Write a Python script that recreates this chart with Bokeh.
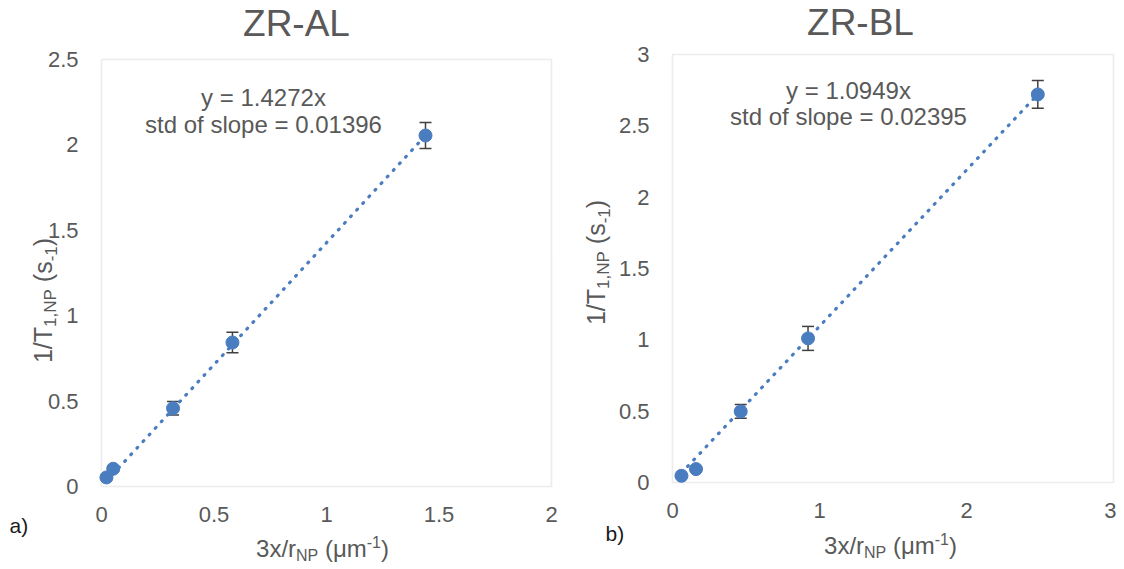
import math
from bokeh.plotting import figure
from bokeh.models import Label, Range1d, FixedTicker, Whisker, TeeHead, ColumnDataSource, BoxAnnotation
from bokeh.layouts import row
from bokeh.embed import file_html
from bokeh.resources import INLINE

# ---------------- data ----------------
al_title = "ZR-AL"
al_x = [0.022, 0.052, 0.318, 0.582, 1.44]
al_y = [0.053, 0.104, 0.458, 0.843, 2.055]
al_err = [0.012, 0.015, 0.040, 0.060, 0.076]
al_slope = 1.4272
al_eq = "y = 1.4272x"
al_std = "std of slope = 0.01396"
al_xticks = [0, 0.5, 1, 1.5, 2]
al_xtick_labels = ["0", "0.5", "1", "1.5", "2"]
al_yticks = [0, 0.5, 1, 1.5, 2, 2.5]
al_ytick_labels = ["0", "0.5", "1", "1.5", "2", "2.5"]

bl_title = "ZR-BL"
bl_x = [0.061, 0.16, 0.464, 0.922, 2.485]
bl_y = [0.047, 0.094, 0.498, 1.01, 2.72]
bl_err = [0.010, 0.015, 0.048, 0.084, 0.097]
bl_slope = 1.0949
bl_eq = "y = 1.0949x"
bl_std = "std of slope = 0.02395"
bl_xticks = [0, 1, 2, 3]
bl_xtick_labels = ["0", "1", "2", "3"]
bl_yticks = [0, 0.5, 1, 1.5, 2, 2.5, 3]
bl_ytick_labels = ["0", "0.5", "1", "1.5", "2", "2.5", "3"]

FONT = "Liberation Sans"
TXT = "#595959"
BLUE = "#4A7DC0"
ERRC = "#404040"

# approximate advance widths (per 1000 em) for Arial-metric fonts
W = {'0': 556, '1': 556, '2': 556, '3': 556, '4': 556, '5': 556, '6': 556, '7': 556, '8': 556, '9': 556,
     '.': 278, ',': 278, '/': 278, ' ': 278, '(': 333, ')': 333, '-': 333, 'x': 500, 'r': 333,
     's': 500, 'm': 833, 'μ': 576, 'N': 722, 'P': 667, 'T': 611}


def tw(s, size):
    return sum(W.get(c, 556) for c in s) / 1000.0 * size


CW, CH = 558, 563   # canvas size of each panel
BASE_FIX = 0.33     # label anchor sits ~0.33 em above the drawn baseline


def make_panel(page_x0, box_l, box_t, box_r, box_b,
               xs, ys, errs, slope, xticks, xlabels, yticks, ylabels,
               title, eq, std, title_cx, title_base, ann_cx, ann_b1, ann_b2,
               xlab_cx, xlab_base, ylab_bx, ylab_cy, tag, tag_x, tag_base):
    xmax = xticks[-1]
    ymax = yticks[-1]
    kx = (box_r - box_l) / xmax      # px per data unit
    ky = (box_b - box_t) / ymax

    def dx(px):
        return (px - box_l) / kx

    def dy(py):
        return (box_b - py) / ky

    x_range = Range1d(dx(page_x0), dx(page_x0 + CW))
    y_range = Range1d(dy(CH), dy(0))
    p = figure(frame_width=CW, frame_height=CH, x_range=x_range, y_range=y_range,
               output_backend="svg", toolbar_location=None,
               min_border_left=0, min_border_right=0, min_border_top=0, min_border_bottom=0)
    p.title.visible = False
    p.xgrid.visible = False
    p.ygrid.visible = False
    p.background_fill_color = "white"
    p.border_fill_color = "white"
    p.outline_line_color = None
    for ax in (p.xaxis[0], p.yaxis[0]):
        ax.fixed_location = 0
        ax.axis_line_color = None
        ax.major_tick_line_color = None
        ax.minor_tick_line_color = None
        ax.major_label_text_font = FONT
        ax.major_label_text_font_size = "22px"
        ax.major_label_text_color = TXT
    p.xaxis[0].major_label_standoff = 14
    p.yaxis[0].major_label_standoff = 17
    p.xaxis[0].bounds = (0, xmax)
    p.yaxis[0].bounds = (0, ymax)
    p.xaxis[0].ticker = FixedTicker(ticks=xticks)
    p.yaxis[0].ticker = FixedTicker(ticks=yticks)
    p.xaxis[0].major_label_overrides = {float(v): s for v, s in zip(xticks, xlabels)}
    p.yaxis[0].major_label_overrides = {float(v): s for v, s in zip(yticks, ylabels)}

    box = BoxAnnotation(left=0, right=xmax, bottom=0, top=ymax, fill_color=None,
                        line_color="#BFBFBF", line_width=1.6, level="underlay")
    p.add_layout(box)

    src = ColumnDataSource(dict(x=xs, y=ys,
                                lower=[a - b for a, b in zip(ys, errs)],
                                upper=[a + b for a, b in zip(ys, errs)]))
    wh = Whisker(source=src, base="x", lower="lower", upper="upper", dimension="height",
                 line_color=ERRC, line_width=1.5,
                 upper_head=TeeHead(size=12, line_color=ERRC, line_width=1.5),
                 lower_head=TeeHead(size=12, line_color=ERRC, line_width=1.5))
    wh.level = "underlay"
    p.add_layout(wh)

    lx = [min(xs), max(xs)]
    p.line(lx, [slope * v for v in lx], line_color=BLUE, line_width=3.2,
           line_dash="1 8", line_cap="round")
    p.scatter("x", "y", source=src, size=13, fill_color=BLUE, line_color=BLUE)

    def lab(px, py, text, size, align="left", angle=0.0, color=TXT):
        if angle == 0.0:
            py = py - BASE_FIX * size
        else:
            px = px - BASE_FIX * size
        p.add_layout(Label(x=dx(px), y=dy(py), text=text, text_font=FONT,
                           text_font_size=f"{size}px", text_color=color, text_align=align,
                           text_baseline="alphabetic", angle=angle))

    # title
    lab(title_cx, title_base, title, 37, align="center")
    # annotation
    lab(ann_cx, ann_b1, eq, 24, align="center")
    lab(ann_cx, ann_b2, std, 24, align="center")
    # x label: 3x/r_NP (μm^-1)
    xp = [("3x/r", 24, 0), ("NP", 16, -4), (" (μm", 24, 0), ("-1", 16, 9), (")", 24, 0)]
    total = sum(tw(t, s) for t, s, _ in xp)
    cx = xlab_cx - total / 2
    for t, s, d in xp:
        lead = len(t) - len(t.lstrip())
        lab(cx + tw(t[:lead], s), xlab_base - d, t.lstrip(), s)
        cx += tw(t, s)
    # y label (rotated): 1/T_{1,NP} (s_{-1})
    yp = [("1/T", 25, 0), ("1,NP", 17, -5), (" (s", 25, 0), ("-1", 17, -5), (")", 25, 0)]
    total = sum(tw(t, s) for t, s, _ in yp)
    cy = ylab_cy + total / 2
    for t, s, d in yp:
        lead = len(t) - len(t.lstrip())
        lab(ylab_bx - d, cy - tw(t[:lead], s), t.lstrip(), s, angle=math.pi / 2)
        cy -= tw(t, s)
    # panel tag
    lab(tag_x, tag_base, tag, 21, color="#1A1A1A")
    return p


p1 = make_panel(0, 101, 59, 551, 486,
                al_x, al_y, al_err, al_slope, al_xticks, al_xtick_labels, al_yticks, al_ytick_labels,
                al_title, al_eq, al_std, 296, 35, 263, 105, 132,
                322, 556, 51, 300, "a)", 9, 532)
p2 = make_panel(CW, 672, 54, 1113, 482,
                bl_x, bl_y, bl_err, bl_slope, bl_xticks, bl_xtick_labels, bl_yticks, bl_ytick_labels,
                bl_title, bl_eq, bl_std, 860, 34, 848, 98, 124,
                890, 553, 604, 262, "b)", 605, 540)

layout = row(p1, p2)
open("out.html", "w").write(file_html(layout, INLINE))
